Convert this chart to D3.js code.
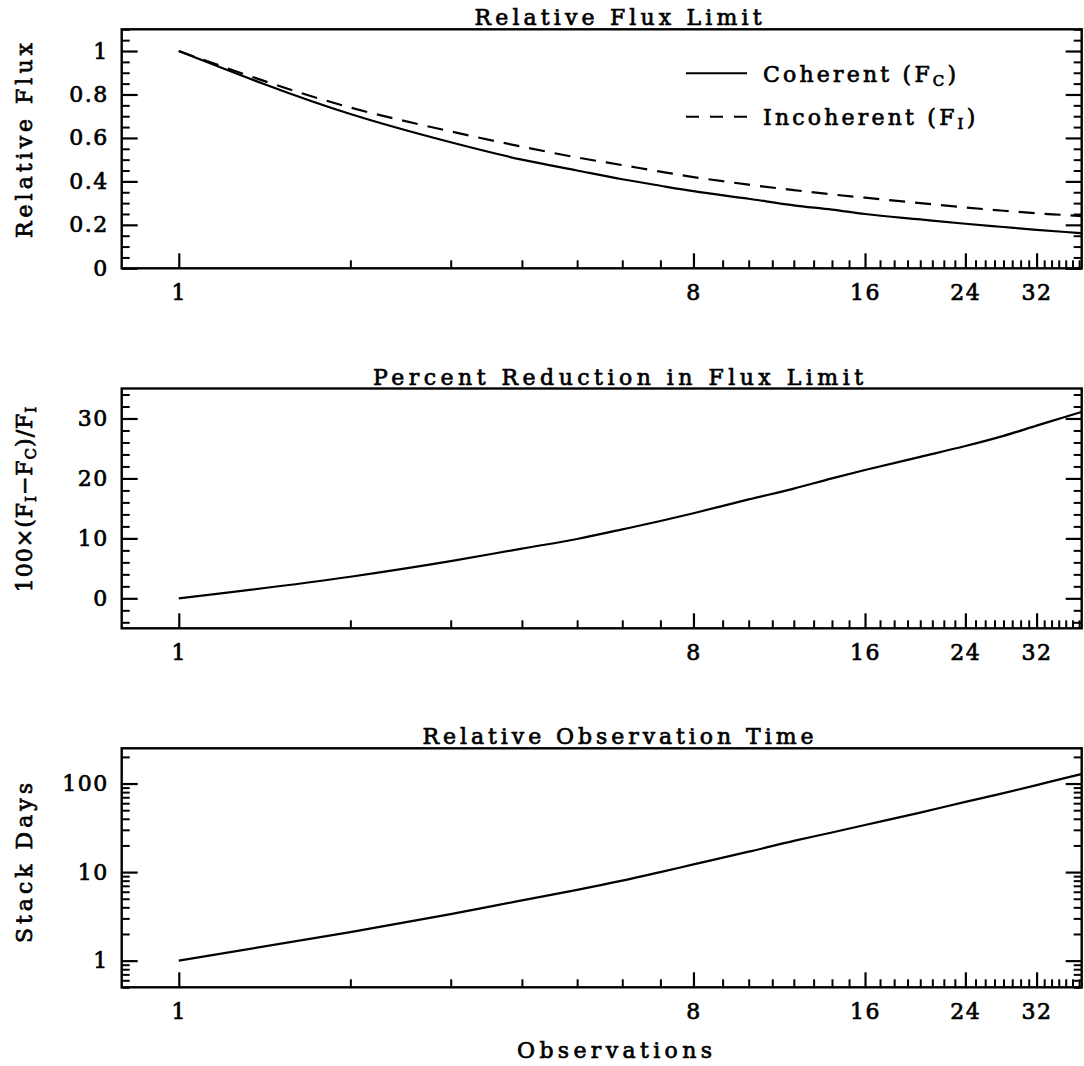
<!DOCTYPE html>
<html><head><meta charset="utf-8">
<script src="https://cdn.jsdelivr.net/npm/d3@7"></script>
<style>body{margin:0;background:#fff} svg{display:block}</style>
</head><body>
<svg id="c" width="1084" height="1066"></svg>
<script>
// ---- data ----
const observations     = [1, 2, 3, 4, 5, 6, 7, 8, 10, 12, 14, 16, 20, 24, 28, 32, 36, 38.4];
const coherentFlux     = [1.00, 0.71, 0.58, 0.50, 0.45, 0.41, 0.38, 0.355, 0.32, 0.29, 0.27, 0.25, 0.225, 0.205, 0.19, 0.177, 0.167, 0.162];
const incoherentFlux   = [1.00, 0.74, 0.63, 0.56, 0.51, 0.475, 0.445, 0.42, 0.385, 0.36, 0.34, 0.325, 0.30, 0.28, 0.265, 0.253, 0.245, 0.24];
const percentReduction = [0, 3.6, 6.2, 8.3, 9.9, 11.5, 12.9, 14.2, 16.5, 18.3, 20.0, 21.4, 23.6, 25.4, 27.1, 28.8, 30.3, 31.1];
const stackDays        = [1, 2.1, 3.35, 4.8, 6.3, 8.0, 10.0, 12.2, 17, 22.5, 28, 34, 47, 62, 78, 96, 116, 128];

const xTickValues   = [1, 8, 16, 24, 32];
const xTickLabels   = ["1", "8", "16", "24", "32"];
const fluxTicks     = [0, 0.2, 0.4, 0.6, 0.8, 1];
const fluxLabels    = ["0", "0.2", "0.4", "0.6", "0.8", "1"];
const percentTicks  = [0, 10, 20, 30];
const percentLabels = ["0", "10", "20", "30"];
const daysTicks     = [1, 10, 100];
const daysLabels    = ["1", "10", "100"];

const titles = ["Relative Flux Limit", "Percent Reduction in Flux Limit", "Relative Observation Time"];
const seriesNames = ["Coherent", "Incoherent"];

// ---- layout ----
const FONT = "'DejaVu Serif', serif";
const FS = 22;
const svg = d3.select("#c");
const xL = 121.7, xR = 1081.7;
const x = d3.scaleLog().domain([0.794, 38.4]).range([xL, xR]);
const xMinor = d3.range(2, 39).filter(v => !xTickValues.includes(v));

const panels = [
  { top: 29.3, bottom: 268.3, y: d3.scaleLinear().domain([0, 1.1]),
    major: fluxTicks, labels: fluxLabels, minor: d3.range(0, 1.101, 0.05).map(v => +v.toFixed(2)).filter(v => !fluxTicks.includes(v)),
    title: titles[0], titleLen: 287 },
  { top: 388.5, bottom: 628.3, y: d3.scaleLinear().domain([-5, 35]),
    major: percentTicks, labels: percentLabels, minor: d3.range(-4, 35, 2).filter(v => v % 10 !== 0),
    title: titles[1], titleLen: 490 },
  { top: 748.3, bottom: 987.3, y: d3.scaleLog().domain([0.5, 250]),
    major: daysTicks, labels: daysLabels, minor: [0.5,0.6,0.7,0.8,0.9,2,3,4,5,6,7,8,9,20,30,40,50,60,70,80,90,200],
    title: titles[2], titleLen: 391 }
];

function textStyle(sel) {
  return sel.attr("fill", "#000").attr("font-family", FONT).attr("font-size", FS)
    .attr("stroke", "#000").attr("stroke-width", 0.7);
}
function styleAxis(g, sw) {
  g.select(".domain").remove();
  g.selectAll(".tick line").attr("stroke", "#000").attr("stroke-width", sw);
  textStyle(g.selectAll(".tick text")).attr("letter-spacing", 1.5);
}

const clipId = i => "clip" + i;

panels.forEach((p, i) => {
  p.y.range([p.bottom, p.top]);
  const g = svg.append("g");

  g.append("clipPath").attr("id", clipId(i)).append("rect")
    .attr("x", xL).attr("y", p.top).attr("width", xR - xL).attr("height", p.bottom - p.top);

  // left axis
  g.append("g").attr("transform", `translate(${xL},0)`)
    .call(d3.axisLeft(p.y).tickValues(p.minor).tickSize(-8).tickFormat(""))
    .call(a => styleAxis(a, 2));
  g.append("g").attr("transform", `translate(${xL},0)`)
    .call(d3.axisLeft(p.y).tickValues(p.major).tickSize(-16).tickPadding(13)
      .tickFormat((d, k) => p.labels[k]))
    .call(a => styleAxis(a, 2.2));
  // right axis
  g.append("g").attr("transform", `translate(${xR},0)`)
    .call(d3.axisRight(p.y).tickValues(p.minor).tickSize(-8).tickFormat(""))
    .call(a => styleAxis(a, 2));
  g.append("g").attr("transform", `translate(${xR},0)`)
    .call(d3.axisRight(p.y).tickValues(p.major).tickSize(-16).tickFormat(""))
    .call(a => styleAxis(a, 2.2));
  // bottom axis
  g.append("g").attr("transform", `translate(0,${p.bottom})`)
    .call(d3.axisBottom(x).tickValues(xMinor).tickSize(-8).tickFormat(""))
    .call(a => styleAxis(a, 2));
  g.append("g").attr("transform", `translate(0,${p.bottom})`)
    .call(d3.axisBottom(x).tickValues(xTickValues).tickSize(-15).tickPadding(16)
      .tickFormat((d, k) => xTickLabels[k]))
    .call(a => styleAxis(a, 2.2));

  // frame
  g.append("rect").attr("x", xL).attr("y", p.top).attr("width", xR - xL).attr("height", p.bottom - p.top)
    .attr("fill", "none").attr("stroke", "#000").attr("stroke-width", 2.4);

  // title
  textStyle(g.append("text")).attr("x", 618).attr("y", p.top - 4).attr("text-anchor", "middle")
    .attr("textLength", p.titleLen).attr("lengthAdjust", "spacing").text(p.title);
});

// ---- curves ----
const line = (yScale, vals) => d3.line().curve(d3.curveMonotoneX)
  .x((d, k) => x(observations[k])).y((d, k) => yScale(vals[k]))(vals);

const P = panels;
svg.append("path").attr("d", line(P[0].y, coherentFlux)).attr("clip-path", `url(#${clipId(0)})`)
  .attr("fill", "none").attr("stroke", "#000").attr("stroke-width", 2.2);
svg.append("path").attr("d", line(P[0].y, incoherentFlux)).attr("clip-path", `url(#${clipId(0)})`)
  .attr("fill", "none").attr("stroke", "#000").attr("stroke-width", 2.2).attr("stroke-dasharray", "16,10");
svg.append("path").attr("d", line(P[1].y, percentReduction)).attr("clip-path", `url(#${clipId(1)})`)
  .attr("fill", "none").attr("stroke", "#000").attr("stroke-width", 2.2);
svg.append("path").attr("d", line(P[2].y, stackDays)).attr("clip-path", `url(#${clipId(2)})`)
  .attr("fill", "none").attr("stroke", "#000").attr("stroke-width", 2.2);

// ---- legend ----
const lg = svg.append("g");
lg.append("line").attr("x1", 686).attr("x2", 747).attr("y1", 73.3).attr("y2", 73.3)
  .attr("stroke", "#000").attr("stroke-width", 2);
lg.append("line").attr("x1", 686).attr("x2", 747).attr("y1", 116.7).attr("y2", 116.7)
  .attr("stroke", "#000").attr("stroke-width", 2).attr("stroke-dasharray", "13,11");
function subText(sel, parts) {
  parts.forEach(pt => {
    const t = sel.append("tspan").text(pt[0]);
    if (pt[1]) t.attr("font-size", 15).attr("dy", 4);
    else if (pt[2]) t.attr("dy", -4);
  });
}
const t1 = textStyle(lg.append("text")).attr("x", 763).attr("y", 81.7).attr("letter-spacing", 3.2);
subText(t1, [[seriesNames[0] + " (F"], ["C", true], [")", false, true]]);
const t2 = textStyle(lg.append("text")).attr("x", 763).attr("y", 125).attr("letter-spacing", 3.2);
subText(t2, [[seriesNames[1] + " (F"], ["I", true], [")", false, true]]);

// ---- axis titles ----
function yTitle(cy, len, build) {
  const t = textStyle(svg.append("text")).attr("transform", `translate(32,${cy}) rotate(-90)`)
    .attr("text-anchor", "middle");
  if (len) t.attr("textLength", len).attr("lengthAdjust", "spacing");
  build(t);
}
yTitle(140.5, 195, t => t.text("Relative Flux"));
yTitle(499, null, t => {
  t.attr("letter-spacing", 1.0);
  subText(t, [["100×(F"], ["I", true], ["−F", false, true], ["C", true], [")/F", false, true], ["I", true]]);
});
yTitle(863, 160, t => t.text("Stack Days"));

textStyle(svg.append("text")).attr("x", 614.5).attr("y", 1058).attr("text-anchor", "middle")
  .attr("textLength", 195).attr("lengthAdjust", "spacing").text("Observations");
</script>
</body></html>
